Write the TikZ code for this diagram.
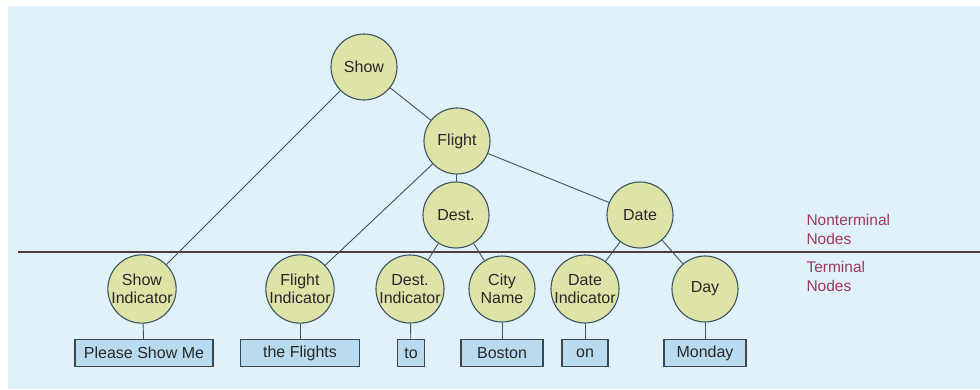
\documentclass[tikz,border=0pt]{standalone}
\usepackage{fontspec}
\setmainfont{Liberation Sans}
\definecolor{bgblue}{RGB}{225, 241, 249}
\definecolor{nodefill}{RGB}{222, 228, 168}
\definecolor{nodeline}{RGB}{60, 84, 94}
\definecolor{wordfill}{RGB}{184, 219, 239}
\definecolor{wordline}{RGB}{60, 70, 76}
\definecolor{labelred}{RGB}{158, 58, 92}
\definecolor{splitline}{RGB}{80, 58, 58}
\definecolor{textgray}{RGB}{40, 40, 40}
\usepackage{tikz}
\usetikzlibrary{positioning}
\tikzset{
  treenode/.style={circle, draw=nodeline, fill=nodefill, line width=1.1pt, minimum size=66pt, inner sep=0pt, align=center, text=textgray},
  wordbox/.style={rectangle, draw=wordline, fill=wordfill, line width=1.1pt, minimum height=27pt, inner sep=0pt, text=textgray},
  link/.style={draw=nodeline, line width=0.9pt},
}

\begin{document}
\begin{tikzpicture}[x=1pt, y=-1pt, font=\fontsize{16}{18.5}\selectfont]
  \fill[white] (0,0) rectangle (980,389);
  \fill[bgblue] (8,6) rectangle (980,389);
  \useasboundingbox (0,0) rectangle (980,389);

  % Nonterminal
  \node[treenode] (show) at (364, 67) {Show};
  \node[treenode] (flight) at (457, 141) {Flight};
  \node[treenode] (dest) at (456, 215) {Dest.};
  \node[treenode] (date) at (640, 215) {Date};

  % Split line
  \coordinate (splitL) at (18, 252);
  \coordinate (splitR) at (980, 252);
  \draw[splitline, line width=1.3pt] (splitL) -- (splitR);

  % Terminal
  \node[treenode] (showind) at (142, 289) {Show\\Indicator};
  \node[treenode] (flightind) at (300, 289) {Flight\\Indicator};
  \node[treenode] (destind) at (410, 289) {Dest.\\Indicator};
  \node[treenode] (city) at (502, 289) {City\\Name};
  \node[treenode] (dateind) at (585, 289) {Date\\Indicator};
  \node[treenode] (day) at (705, 289) {Day};

  % Words
  \node[wordbox, minimum width=138pt] (wplease) at (144, 353) {Please Show Me};
  \node[wordbox, minimum width=119pt] (wflights) at (300, 353) {the Flights};
  \node[wordbox, minimum width=27pt] (wto) at (411, 353) {to};
  \node[wordbox, minimum width=82pt] (wboston) at (502, 353) {Boston};
  \node[wordbox, minimum width=46pt] (won) at (585, 353) {on};
  \node[wordbox, minimum width=82pt] (wmonday) at (705, 353) {Monday};

  % Links
  \draw[link] (show) -- (flight);
  \draw[link] (show) -- (showind);
  \draw[link] (flight) -- (flightind);
  \draw[link] (flight) -- (dest);
  \draw[link] (flight) -- (date);
  \draw[link] (dest) -- (destind);
  \draw[link] (dest) -- (city);
  \draw[link] (date) -- (dateind);
  \draw[link] (date) -- (day);
  \draw[link] (showind) -- (wplease);
  \draw[link] (flightind) -- (wflights);
  \draw[link] (destind) -- (wto);
  \draw[link] (city) -- (wboston);
  \draw[link] (dateind) -- (won);
  \draw[link] (day) -- (wmonday);

  % Labels
  \node[anchor=west, align=left, text=labelred, font=\fontsize{15.5}{19}\selectfont] (ntlabel) at (803, 229) {Nonterminal\\Nodes};
  \node[anchor=west, align=left, text=labelred, font=\fontsize{15.5}{19}\selectfont] (tlabel) at (803, 276) {Terminal\\Nodes};
\end{tikzpicture}
\end{document}
